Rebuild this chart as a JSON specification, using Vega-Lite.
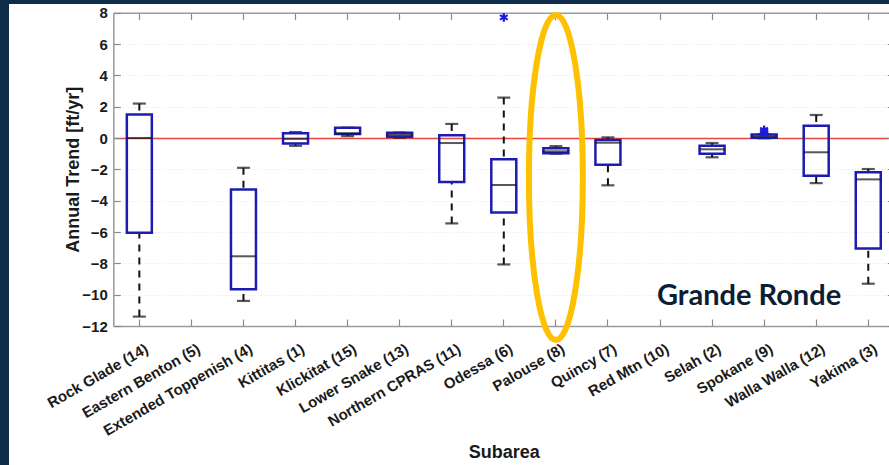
{
  "$schema": "https://vega.github.io/schema/vega-lite/v6.json",
  "width": 880,
  "height": 461,
  "autosize": {"type": "none"},
  "padding": {"left": 9, "top": 4, "right": 0, "bottom": 0},
  "background": "#0f2d4b",
  "config": {
    "view": {"fill": "white", "stroke": null},
    "axis": {
      "labelFont": "Liberation Sans",
      "labelFontWeight": "bold",
      "labelFontSize": 15,
      "labelColor": "#1a1a1a",
      "titleFont": "Liberation Sans",
      "titleFontWeight": "bold",
      "titleFontSize": 18,
      "titleColor": "#1a1a1a",
      "domainColor": "#9a9a9a",
      "domainWidth": 1.5,
      "tickColor": "#8a8a8a",
      "tickWidth": 1.2,
      "tickSize": -7,
      "labelOverlap": false
    }
  },
  "datasets": {
    "boxes": [
      {"s": "Rock Glade (14)", "lo": -11.4, "q1": -6.05, "med": 0, "q3": 1.5, "hi": 2.2},
      {"s": "Extended Toppenish (4)", "lo": -10.4, "q1": -9.65, "med": -7.55, "q3": -3.28, "hi": -1.9},
      {"s": "Kittitas (1)", "lo": -0.5, "q1": -0.35, "med": -0.05, "q3": 0.3, "hi": 0.38},
      {"s": "Klickitat (15)", "lo": 0.12, "q1": 0.25, "med": 0.3, "q3": 0.65, "hi": 0.66},
      {"s": "Lower Snake (13)", "lo": 0.02, "q1": 0.08, "med": 0.2, "q3": 0.33, "hi": 0.35},
      {"s": "Northern CPRAS (11)", "lo": -5.45, "q1": -2.8, "med": -0.32, "q3": 0.17, "hi": 0.9},
      {"s": "Odessa (6)", "lo": -8.07, "q1": -4.75, "med": -3.0, "q3": -1.36, "hi": 2.58},
      {"s": "Palouse (8)", "lo": -1.0, "q1": -0.97, "med": -0.85, "q3": -0.66, "hi": -0.52},
      {"s": "Quincy (7)", "lo": -3.02, "q1": -1.7, "med": -0.3, "q3": -0.13, "hi": 0.04},
      {"s": "Selah (2)", "lo": -1.23, "q1": -1.0, "med": -0.72, "q3": -0.49, "hi": -0.32},
      {"s": "Spokane (9)", "lo": -0.02, "q1": 0.02, "med": 0.1, "q3": 0.22, "hi": 0.25},
      {"s": "Walla Walla (12)", "lo": -2.88, "q1": -2.41, "med": -0.91, "q3": 0.79, "hi": 1.47},
      {"s": "Yakima (3)", "lo": -9.3, "q1": -7.05, "med": -2.64, "q3": -2.19, "hi": -1.98}
    ],
    "outliers": [
      {"s": "Odessa (6)", "v": 7.7},
      {"s": "Spokane (9)", "v": 0.3},
      {"s": "Spokane (9)", "v": 0.42},
      {"s": "Spokane (9)", "v": 0.52}
    ],
    "ellipse": [{"s": "Palouse (8)", "v": -2.52}],
    "notes": [{"s": "Red Mtn (10)", "v": -10.66, "t": "Grande Ronde"}]
  },
  "layer": [
    {
      "data": {"name": "boxes"},
      "mark": {"type": "rule", "color": "#111111", "strokeWidth": 2, "strokeDash": [7, 6]},
      "encoding": {
        "x": {
          "field": "s",
          "type": "nominal",
          "scale": {
            "type": "band",
            "domain": ["Rock Glade (14)", "Eastern Benton (5)", "Extended Toppenish (4)", "Kittitas (1)", "Klickitat (15)", "Lower Snake (13)", "Northern CPRAS (11)", "Odessa (6)", "Palouse (8)", "Quincy (7)", "Red Mtn (10)", "Selah (2)", "Spokane (9)", "Walla Walla (12)", "Yakima (3)"],
            "range": [104.3, 885.3],
            "paddingInner": 0,
            "paddingOuter": 0
          },
          "axis": {
            "orient": "bottom",
            "offset": -139,
            "title": "Subarea",
            "labelAngle": -30,
            "labelAlign": "right",
            "labelBaseline": "top",
            "labelPadding": 22,
            "labelOffset": 4,
            "titlePadding": 5,
            "grid": false
          }
        },
        "y": {
          "field": "lo",
          "type": "quantitative",
          "scale": {"domain": [-12, 8], "range": [322, 8.7], "nice": false, "zero": false},
          "axis": {
            "orient": "left",
            "offset": -104.3,
            "title": "Annual Trend [ft/yr]",
            "values": [-12, -10, -8, -6, -4, -2, 0, 2, 4, 6, 8],
            "labelPadding": 13,
            "titlePadding": -1,
            "grid": true,
            "gridColor": {"condition": {"test": "datum.value === 0", "value": "#e8463c"}, "value": "#e6e6e6"},
            "gridDash": {"condition": {"test": "datum.value === 0", "value": []}, "value": [1, 2]},
            "gridWidth": {"condition": {"test": "datum.value === 0", "value": 1.6}, "value": 1}
          }
        },
        "y2": {"field": "q1"}
      }
    },
    {
      "data": {"name": "boxes"},
      "mark": {"type": "rule", "color": "#111111", "strokeWidth": 2, "strokeDash": [7, 6]},
      "encoding": {
        "x": {"field": "s", "type": "nominal", "axis": null},
        "y": {"field": "hi", "type": "quantitative", "axis": null},
        "y2": {"field": "q3"}
      }
    },
    {
      "data": {"name": "boxes"},
      "mark": {"type": "tick", "color": "#111111", "thickness": 2.2, "size": 13},
      "encoding": {
        "x": {"field": "s", "type": "nominal", "axis": null},
        "y": {"field": "lo", "type": "quantitative", "axis": null}
      }
    },
    {
      "data": {"name": "boxes"},
      "mark": {"type": "tick", "color": "#111111", "thickness": 2.2, "size": 13},
      "encoding": {
        "x": {"field": "s", "type": "nominal", "axis": null},
        "y": {"field": "hi", "type": "quantitative", "axis": null}
      }
    },
    {
      "data": {"name": "boxes"},
      "mark": {"type": "bar", "width": 25, "fill": "white", "fillOpacity": 0, "stroke": "#1c1cb0", "strokeWidth": 2.5},
      "encoding": {
        "x": {
          "field": "s",
          "type": "nominal",
          "axis": {"orient": "top", "offset": -8.7, "labels": false, "title": null, "grid": false}
        },
        "y": {
          "field": "q1",
          "type": "quantitative",
          "axis": {"orient": "right", "offset": 5.3, "labels": false, "title": null, "grid": false, "values": [-12, -10, -8, -6, -4, -2, 0, 2, 4, 6, 8]}
        },
        "y2": {"field": "q3"}
      }
    },
    {
      "data": {"name": "boxes"},
      "mark": {"type": "tick", "color": "#111111", "thickness": 2, "size": 25},
      "encoding": {
        "x": {"field": "s", "type": "nominal", "axis": null},
        "y": {"field": "med", "type": "quantitative", "axis": null}
      }
    },
    {
      "data": {"name": "outliers"},
      "mark": {"type": "point", "shape": "M0,-1L0,1M-0.87,-0.5L0.87,0.5M-0.87,0.5L0.87,-0.5", "size": 80, "filled": false, "color": "#1a1ae0", "strokeWidth": 2.2, "opacity": 1},
      "encoding": {
        "x": {"field": "s", "type": "nominal", "axis": null},
        "y": {"field": "v", "type": "quantitative", "axis": null}
      }
    },
    {
      "data": {"name": "notes"},
      "mark": {"type": "text", "align": "left", "baseline": "alphabetic", "dx": -3, "font": "Lato", "fontWeight": "bold", "fontSize": 29, "color": "#0c1e33"},
      "encoding": {
        "x": {"field": "s", "type": "nominal", "axis": null},
        "y": {"field": "v", "type": "quantitative", "axis": null},
        "text": {"field": "t"}
      }
    },
    {
      "data": {"name": "ellipse"},
      "mark": {"type": "point", "shape": "M0,-1A0.166,1,0,1,1,0,1A0.166,1,0,1,1,0,-1Z", "size": 105625, "filled": false, "color": "#ffc000", "strokeWidth": 6, "opacity": 1},
      "encoding": {
        "x": {"field": "s", "type": "nominal", "axis": null},
        "y": {"field": "v", "type": "quantitative", "axis": null}
      }
    }
  ]
}
